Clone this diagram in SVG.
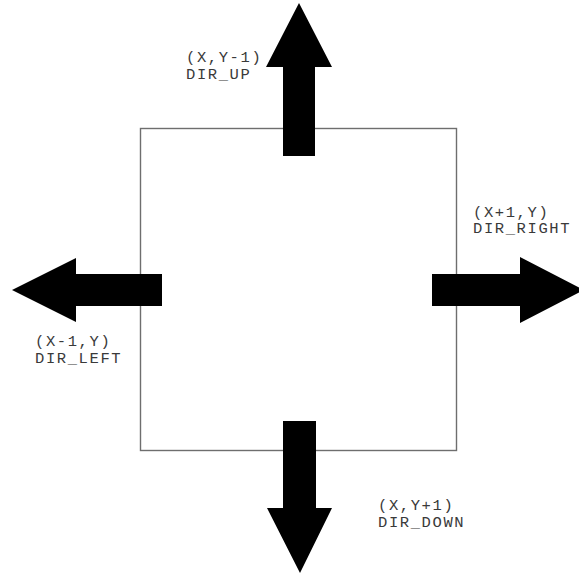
<svg xmlns="http://www.w3.org/2000/svg" width="579" height="575" viewBox="0 0 579 575">
<style>
.box{fill:none;stroke:#6e6e6e;stroke-width:1.4}
.arrow{fill:#000;stroke:none}
.lbl{font-family:"Liberation Mono","Courier New",monospace;font-size:15.5px;letter-spacing:1.6px;fill:#3a3a3a}
</style>
<rect width="579" height="575" fill="#fff"/>
<g id="cell">
<rect class="box" x="140.5" y="128.5" width="316" height="322"/>
</g>
<g id="connectors">
<polygon id="arrow-up" class="arrow" points="283,156 283,67 266,67 299,3 332,67 315,67 315,156"/>
<polygon id="arrow-right" class="arrow" points="432,274 520,274 520,257 584,290 520,323 520,306 432,306"/>
<polygon id="arrow-left" class="arrow" points="162,274 76,274 76,258 12,290 76,322 76,306 162,306"/>
<polygon id="arrow-down" class="arrow" points="283,421 283,508 267,508 300,573 332,508 316,508 316,421"/>
</g>
<g id="label-up">
<text class="lbl" x="186" y="62">(X,Y-1)</text>
<text class="lbl" x="186" y="78.5">DIR_UP</text>
</g>
<g id="label-right">
<text class="lbl" x="473" y="216.5">(X+1,Y)</text>
<text class="lbl" x="473" y="233">DIR_RIGHT</text>
</g>
<g id="label-left">
<text class="lbl" x="35" y="346">(X-1,Y)</text>
<text class="lbl" x="35" y="362.5">DIR_LEFT</text>
</g>
<g id="label-down">
<text class="lbl" x="378" y="510">(X,Y+1)</text>
<text class="lbl" x="378" y="526.5">DIR_DOWN</text>
</g>
</svg>
